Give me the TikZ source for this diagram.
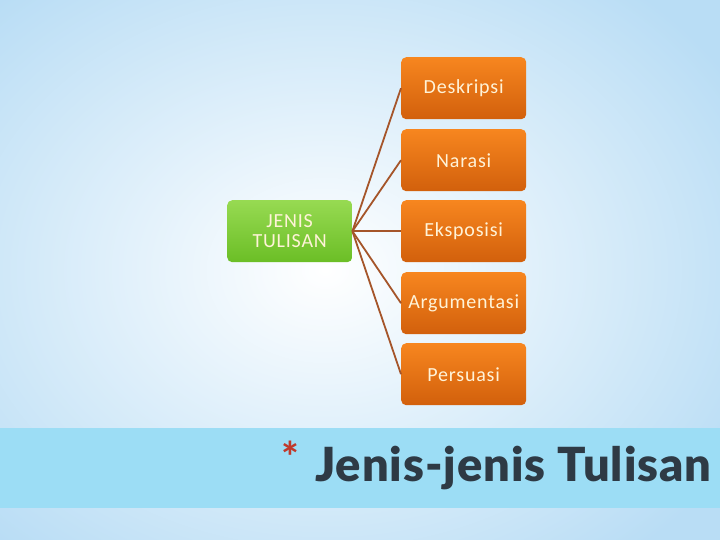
\documentclass[tikz,border=0pt]{standalone}
\usepackage{fontspec}
\setmainfont{Carlito}
\newfontfamily\boxfont[LetterSpace=4]{Carlito}
\newfontfamily\titlefont[LetterSpace=2]{Lato Black}
\usetikzlibrary{shadings}
\definecolor{orTop}{HTML}{F7861F}
\definecolor{orBot}{HTML}{D2600C}
\definecolor{grTop}{HTML}{97DA52}
\definecolor{grBot}{HTML}{6BBE26}
\definecolor{linkc}{HTML}{A5552A}
\definecolor{band}{HTML}{9CDDF5}
\definecolor{bgout}{HTML}{B9DDF5}
\definecolor{boxtxt}{HTML}{FFF3D8}
\definecolor{titlec}{HTML}{2E3A45}
\definecolor{star}{HTML}{C0392B}
\tikzset{
  x=1pt,y=-1pt,
  orbox/.style={rounded corners=5pt, top color=orTop, bottom color=orBot, draw=none,
    minimum width=125pt, minimum height=62pt, text=boxtxt, font=\boxfont\fontsize{20}{20}\selectfont, align=center, anchor=north west, inner sep=0pt},
  grbox/.style={orbox, top color=grTop, bottom color=grBot},
  link/.style={draw=linkc, line width=1.8pt}
}
\begin{document}
\begin{tikzpicture}
\useasboundingbox (0,0) rectangle (720,540);
\fill[bgout] (0,0) rectangle (720,540);
\shade[inner color=white, outer color=bgout] (-150,-100) rectangle (800,640);
\fill[band] (0,428) rectangle (720,508);
\node[orbox] (d) at (401,57) {Deskripsi};
\node[orbox] (n) at (401,129) {Narasi};
\node[orbox] (e) at (401,200) {Eksposisi};
\node[orbox] (a) at (401,272) {Argumentasi};
\node[orbox] (p) at (401,343) {Persuasi};
\node[grbox] (j) at (227,200) {JENIS\\TULISAN};
\foreach \t in {d,n,e,a,p} \draw[link] (j.east) -- (\t.west);
\node[text=star, font=\fontsize{44}{44}\selectfont\bfseries, anchor=center, inner sep=0pt] (s) at (290,457) {*};
\node[text=titlec, font=\titlefont\fontsize{47}{50}\selectfont, anchor=base west, inner sep=0pt] (t) at (315,481) {Jenis-jenis Tulisan};
\end{tikzpicture}
\end{document}
